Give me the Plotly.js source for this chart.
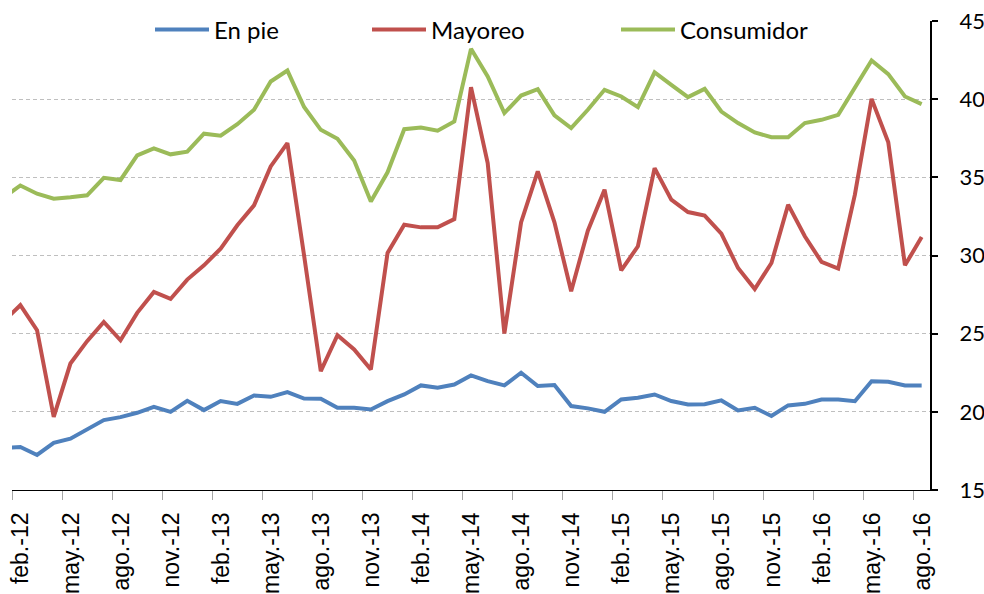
<!DOCTYPE html>
<html>
<head>
<meta charset="utf-8">
<script src="https://cdn.plot.ly/plotly-3.0.1.min.js"></script>
<style>html,body{margin:0;padding:0;background:#fff;}#chart{width:984px;height:594px;}</style>
</head>
<body>
<div id="chart"></div>
<script>
// Months (first one is the clipped point before the axis start)
const months = ["ene.-12","feb.-12","mar.-12","abr.-12","may.-12","jun.-12","jul.-12","ago.-12","sep.-12","oct.-12","nov.-12","dic.-12",
  "ene.-13","feb.-13","mar.-13","abr.-13","may.-13","jun.-13","jul.-13","ago.-13","sep.-13","oct.-13","nov.-13","dic.-13",
  "ene.-14","feb.-14","mar.-14","abr.-14","may.-14","jun.-14","jul.-14","ago.-14","sep.-14","oct.-14","nov.-14","dic.-14",
  "ene.-15","feb.-15","mar.-15","abr.-15","may.-15","jun.-15","jul.-15","ago.-15","sep.-15","oct.-15","nov.-15","dic.-15",
  "ene.-16","feb.-16","mar.-16","abr.-16","may.-16","jun.-16","jul.-16","ago.-16"];

const enPie = [17.70,17.75,17.24,18.02,18.28,18.87,19.47,19.66,19.94,20.32,20.00,20.71,
  20.11,20.69,20.51,21.05,20.96,21.26,20.85,20.83,20.26,20.26,20.15,20.68,
  21.11,21.69,21.54,21.75,22.33,21.96,21.69,22.50,21.65,21.71,20.37,20.22,
  20.00,20.79,20.90,21.11,20.69,20.47,20.49,20.73,20.09,20.26,19.73,20.41,
  20.51,20.79,20.79,20.68,21.96,21.92,21.69,21.69];

const mayoreo = [25.80,26.82,25.22,19.68,23.09,24.52,25.75,24.58,26.33,27.67,27.22,28.46,
  29.37,30.44,31.93,33.21,35.70,37.19,30.00,22.60,24.90,23.99,22.71,30.16,
  31.97,31.80,31.80,32.33,40.77,35.91,25.01,32.12,35.38,32.12,27.71,31.59,
  34.21,29.05,30.59,35.59,33.57,32.78,32.55,31.40,29.20,27.86,29.52,33.25,
  31.23,29.59,29.16,33.89,40.02,37.25,29.37,31.18];

const consumidor = [33.70,34.48,33.95,33.63,33.72,33.85,34.97,34.83,36.40,36.85,36.47,36.64,
  37.79,37.66,38.40,39.32,41.13,41.83,39.50,38.04,37.47,36.08,33.46,35.32,
  38.08,38.19,37.98,38.57,43.22,41.45,39.11,40.23,40.64,38.96,38.15,39.32,
  40.60,40.17,39.49,41.72,40.92,40.13,40.66,39.21,38.47,37.87,37.57,37.57,
  38.47,38.68,39.00,40.70,42.47,41.60,40.17,39.68];

const seriesNames = ["En pie","Mayoreo","Consumidor"];
const seriesColors = ["#4F81BD","#C0504D","#9BBB59"];

// x position: mid-month, axis starts at start of feb.-12
const xs = months.map((m, i) => i - 0.5);
const tickvals = [], ticktext = [];
months.forEach((m, i) => { if (i >= 1 && (i - 1) % 3 === 0) { tickvals.push(i - 1); ticktext.push(m); } });

const legendNames = ["legend","legend2","legend3"];
const traces = [enPie, mayoreo, consumidor].map((ys, k) => ({
  type: "scatter", mode: "lines", x: xs, y: ys, name: seriesNames[k],
  line: {color: seriesColors[k], width: 4},
  legend: legendNames[k], hoverinfo: "skip"
}));

const L = 12, R = 930, T = 21, B = 490;
const px2x = p => (p - L) / (R - L);
const py2y = p => (B - p) / (B - T);
const legFont = {family: "Lato, 'Open Sans', sans-serif", size: 24, color: "#000"};
function leg(px) {
  return {x: px2x(px), y: py2y(30), xanchor: "left", yanchor: "middle", orientation: "h",
    bgcolor: "rgba(0,0,0,0)", borderwidth: 0, font: legFont, itemwidth: 54};
}

const layout = {
  width: 984, height: 594,
  margin: {l: L, r: 984 - R, t: T, b: 594 - B, pad: 0, autoexpand: false},
  paper_bgcolor: "#fff", plot_bgcolor: "#fff",
  showlegend: true,
  legend: leg(150), legend2: leg(367), legend3: leg(616),
  xaxis: {
    range: [0, 55], tickmode: "array", tickvals: tickvals, ticktext: ticktext,
    tickangle: -90, ticks: "outside", ticklen: 9, tickcolor: "#a6a6a6", tickwidth: 1,
    showline: true, linecolor: "#000", linewidth: 1.3, showgrid: false, zeroline: false,
    tickfont: {family: "'Liberation Sans', Arial, sans-serif", size: 23, color: "#000"},
    ticklabelshift: 9, ticklabelstandoff: 3, fixedrange: true, automargin: false
  },
  yaxis: {
    side: "right", range: [15, 45], tick0: 15, dtick: 5, ticks: "outside", ticklen: 6,
    tickcolor: "#000", tickwidth: 2, showline: true, linecolor: "#000", linewidth: 2,
    showgrid: true, gridcolor: "#bfbfbf", gridwidth: 1, griddash: "4px,3px", zeroline: false,
    tickfont: {family: "Lato, 'Open Sans', sans-serif", size: 22, color: "#000"},
    ticklabelstandoff: 17, fixedrange: true, automargin: false
  },
  shapes: [{type: "rect", xref: "paper", yref: "paper", layer: "between",
    x0: px2x(63), x1: px2x(897), y0: py2y(26), y1: py2y(16),
    fillcolor: "#fff", line: {width: 0}}]
};

Plotly.newPlot("chart", traces, layout, {displayModeBar: false, staticPlot: true});
</script>
</body>
</html>
